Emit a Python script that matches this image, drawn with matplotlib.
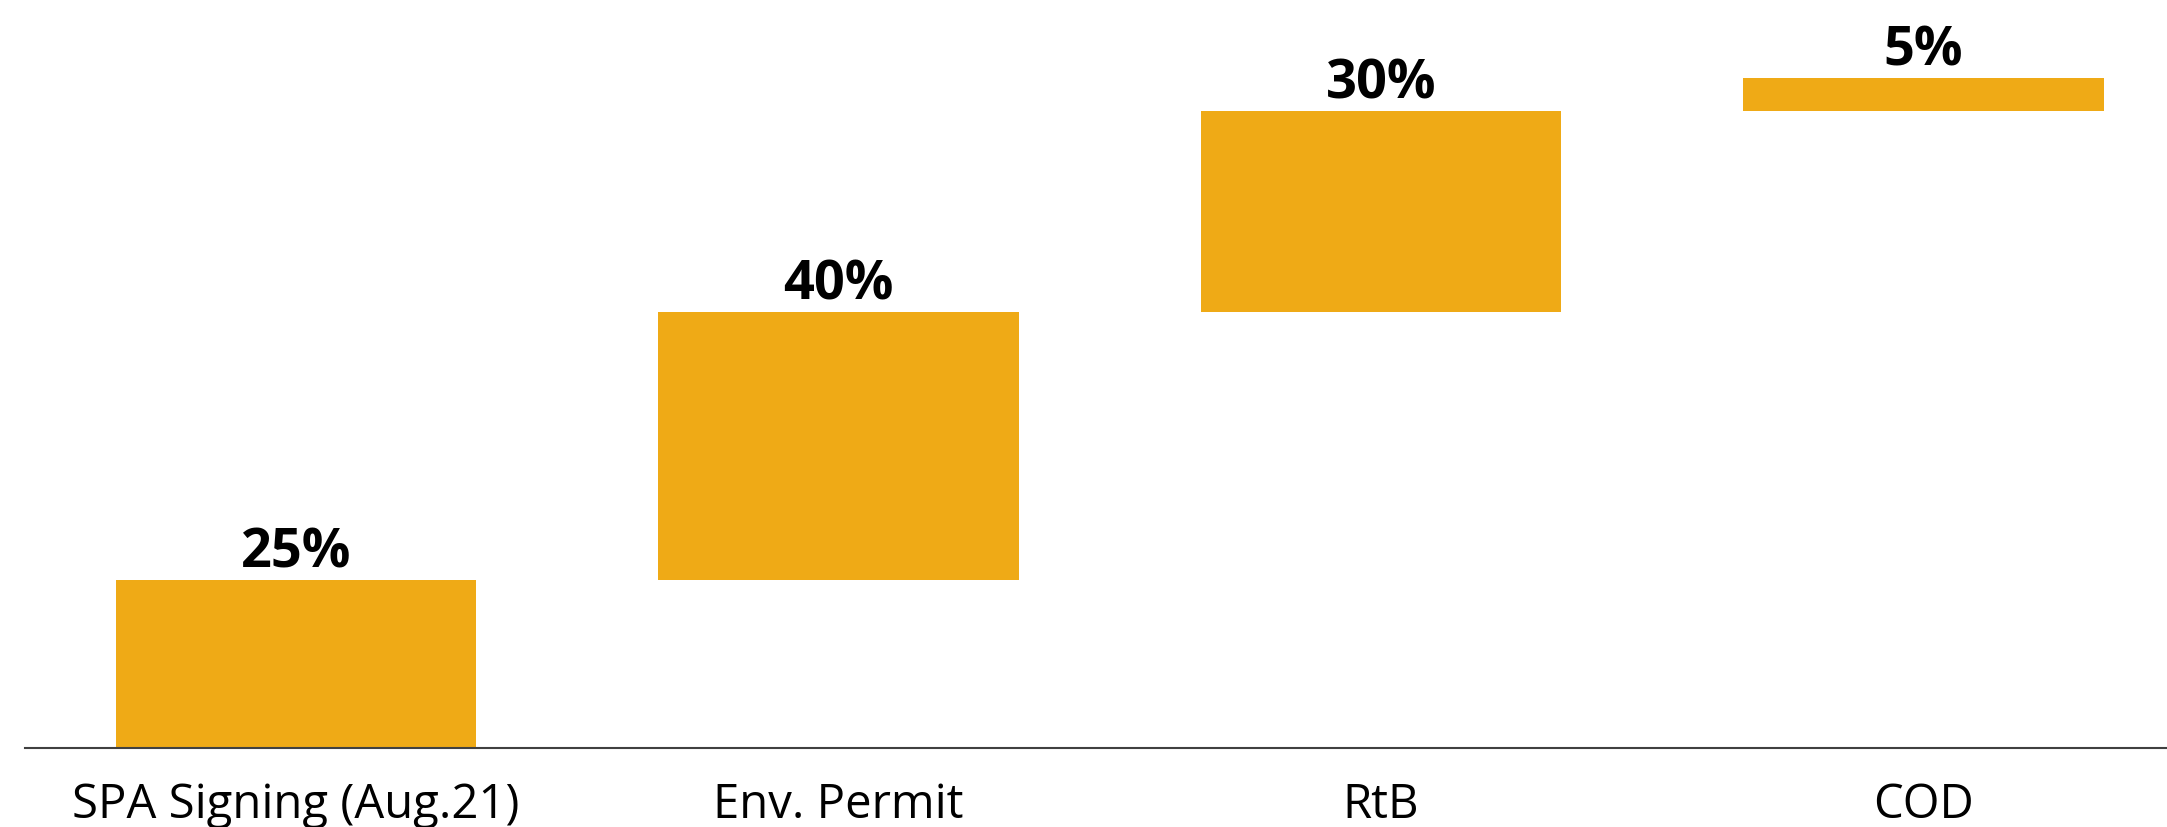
import numpy as np
import matplotlib
matplotlib.use("Agg")
import matplotlib.pyplot as plt

plt.rcParams['font.family'] = ['Open Sans', 'DejaVu Sans']

# 数据
stages = ['SPA Signing (Aug.21)', 'Env. Permit', 'RtB', 'COD']
shares = [25, 40, 30, 5]
bar_color = '#EFAA16'

# 瀑布图起点
bottoms = np.concatenate([[0], np.cumsum(shares)[:-1]])
x = np.arange(len(stages))

fig = plt.figure(figsize=(21.67, 8.27), dpi=100)
ax = fig.add_axes([0.0115, 0.0955, 0.9885, 0.9045])

ax.bar(x, shares, bottom=bottoms, width=0.665, color=bar_color)

for xi, b, s in zip(x, bottoms, shares):
    ax.annotate(f'{s}%', xy=(xi, b + s), xytext=(0, 9), textcoords='offset points',
                ha='center', va='baseline', fontsize=39, fontweight='bold', color='black')

ax.set_xlim(-0.5, 3.449)
ax.set_ylim(0, 111.6)
ax.set_xticks(x)
ax.set_xticklabels(stages, fontsize=34)
ax.tick_params(axis='x', length=0, pad=24)
ax.set_yticks([])

for side in ['top', 'right', 'left']:
    ax.spines[side].set_visible(False)
ax.spines['bottom'].set_color('#404040')
ax.spines['bottom'].set_linewidth(1.5)

fig.savefig('out.png', dpi=100)
